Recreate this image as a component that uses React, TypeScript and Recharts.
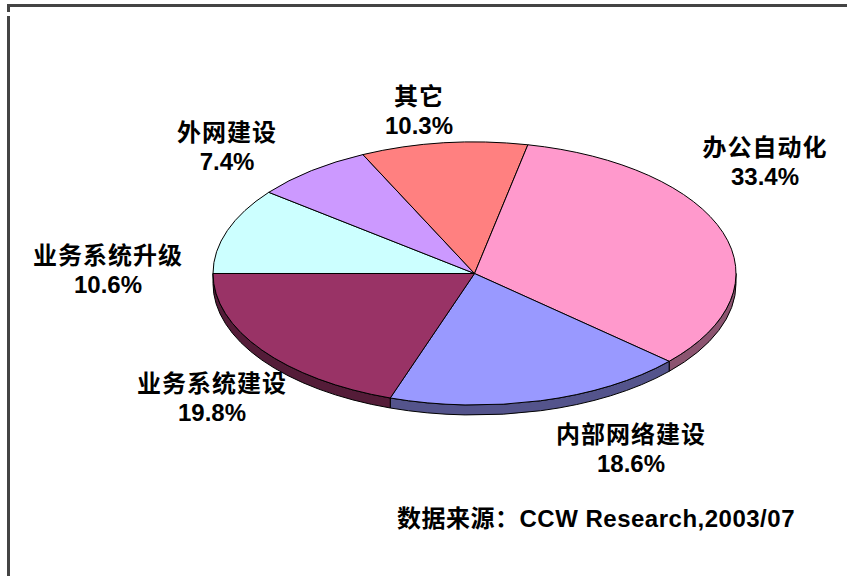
import React from "react";
import { PieChart, Pie, Cell } from "recharts";

// clockwise from 9 o'clock, as in the source picture
const NAMES = ["业务系统升级", "外网建设", "其它", "办公自动化", "内部网络建设", "业务系统建设"];
const SHARES = [10.6, 7.4, 10.3, 33.4, 18.6, 19.8];
const COLORS = ["#CCFFFF", "#CC99FF", "#FF8080", "#FF99CC", "#9999FF", "#993366"];

// where Excel put each label (center of the name line)
const LABEL_POS: [number, number][] = [
  [108, 255],
  [227, 132],
  [419, 96],
  [765, 147],
  [631, 434],
  [212, 383],
];

const SOURCE = "数据来源：CCW Research,2003/07";

const data = NAMES.map((name, i) => ({ name, value: SHARES[i] }));

const RATIO = 131.5 / 261.5;
const DEPTH = 10;
const RAD = Math.PI / 180;
const FONT = "'Liberation Sans', Arial, 'Noto Sans CJK SC', sans-serif";

const darken = (hex: string, f: number) => {
  const n = parseInt(hex.slice(1), 16);
  const c = [(n >> 16) & 255, (n >> 8) & 255, n & 255].map((v) => Math.round(v * f));
  return `rgb(${c.join(",")})`;
};

const pt = (cx: number, cy: number, rx: number, ry: number, a: number) => [
  cx + rx * Math.cos(a * RAD),
  cy - ry * Math.sin(a * RAD),
];

function Slice3D(props: any) {
  const { cx, cy, outerRadius, startAngle, endAngle, fill } = props;
  const rx = outerRadius;
  const ry = outerRadius * RATIO;
  const [x1, y1] = pt(cx, cy, rx, ry, startAngle);
  const [x2, y2] = pt(cx, cy, rx, ry, endAngle);
  const large = Math.abs(startAngle - endAngle) > 180 ? 1 : 0;
  const sweep = startAngle > endAngle ? 1 : 0;
  const top = `M${cx},${cy} L${x1},${y1} A${rx},${ry} 0 ${large} ${sweep} ${x2},${y2} Z`;

  // visible wall only on the front half (angles between 0 and -180)
  const hi = Math.min(Math.max(startAngle, endAngle), 0);
  const lo = Math.max(Math.min(startAngle, endAngle), -180);
  let side = null;
  if (hi > lo) {
    const [a1, b1] = pt(cx, cy, rx, ry, hi);
    const [a2, b2] = pt(cx, cy, rx, ry, lo);
    const d = `M${a1},${b1} A${rx},${ry} 0 0 1 ${a2},${b2} L${a2},${b2 + DEPTH} A${rx},${ry} 0 0 0 ${a1},${b1 + DEPTH} Z`;
    side = <path d={d} fill={darken(fill, 0.55)} stroke="#000" strokeWidth={1} />;
  }
  return (
    <g>
      {side}
      <path d={top} fill={fill} stroke="#000" strokeWidth={1} />
    </g>
  );
}

const renderLabel = (p: any) => {
  const [x, y] = LABEL_POS[p.index];
  return (
    <g key={`lbl-${p.index}`}>
      <text x={x} y={y} textAnchor="middle" dominantBaseline="central" fontSize={24} fontWeight="bold"
        fill="#000" style={{ letterSpacing: 1, fontFamily: FONT }}>
        {p.name}
      </text>
      <text x={x} y={y + 29} textAnchor="middle" dominantBaseline="central" fontSize={24} fontWeight="bold"
        fill="#000" style={{ fontFamily: FONT }}>
        {`${p.value.toFixed(1)}%`}
      </text>
    </g>
  );
};

export default function App() {
  return (
    <div style={{ position: "absolute", left: 0, top: 0, width: 847, height: 576, background: "#fff", overflow: "hidden" }}>
      {/* frame */}
      <div style={{ position: "absolute", left: 7, top: 4, width: 840, height: 3, background: "#444" }} />
      <div style={{ position: "absolute", left: 7, top: 4, width: 3, height: 8, background: "#444" }} />
      <div style={{ position: "absolute", left: 7, top: 16, width: 3, height: 560, background: "#444" }} />

      <div style={{ position: "absolute", left: 0, top: 0 }}>
        <PieChart width={847} height={576} margin={{ top: 0, right: 0, bottom: 0, left: 0 }}>
          <Pie
            data={data}
            dataKey="value"
            nameKey="name"
            cx={474.5}
            cy={273.5}
            outerRadius={261.5}
            startAngle={180}
            endAngle={-180}
            shape={Slice3D}
            label={renderLabel}
            labelLine={false}
            isAnimationActive={false}
          >
            {data.map((d, i) => (
              <Cell key={d.name} fill={COLORS[i]} />
            ))}
          </Pie>
        </PieChart>
      </div>

      <div style={{ position: "absolute", left: 397, top: 504, fontFamily: FONT, fontWeight: "bold", fontSize: 24,
        lineHeight: "30px", whiteSpace: "nowrap", color: "#000", letterSpacing: 0.5 }}>
        {SOURCE}
      </div>
    </div>
  );
}
